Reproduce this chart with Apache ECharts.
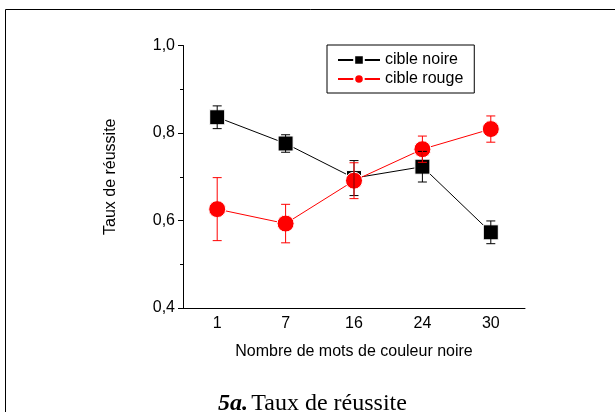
<!DOCTYPE html>
<html>
<head>
<meta charset="utf-8">
<script src="https://cdn.jsdelivr.net/npm/echarts@6/dist/echarts.min.js"></script>
<style>html,body{margin:0;padding:0;background:#fff}#c{width:615px;height:412px}</style>
</head>
<body>
<div id="c"></div>
<script>
var categories = ['1', '7', '16', '24', '30'];
var blackValues = [0.836, 0.776, 0.697, 0.723, 0.573];
var blackErrors = [0.026, 0.020, 0.040, 0.035, 0.026];
var redValues = [0.626, 0.593, 0.691, 0.763, 0.809];
var redErrors = [0.072, 0.044, 0.041, 0.030, 0.030];
var seriesNames = ['cible noire', 'cible rouge'];
var yTicks = [0.4, 0.6, 0.8, 1.0];

var chart = echarts.init(document.getElementById('c'), null, {renderer: 'canvas'});
var FONT = '"Liberation Sans", Arial, sans-serif';
var SERIF = '"Liberation Serif", "Times New Roman", serif';

function errData(vals, errs) {
  return vals.map(function (v, i) { return [i, v - errs[i], v + errs[i]]; });
}
function errRender(color) {
  return function (params, api) {
    var x = api.value(0);
    var lo = api.coord([x, api.value(1)]);
    var hi = api.coord([x, api.value(2)]);
    var hw = 4.5;
    var st = {stroke: color, lineWidth: 1, fill: 'none'};
    return {
      type: 'group',
      children: [
        {type: 'line', shape: {x1: lo[0], y1: lo[1], x2: hi[0], y2: hi[1]}, style: st},
        {type: 'line', shape: {x1: lo[0] - hw, y1: lo[1], x2: lo[0] + hw, y2: lo[1]}, style: st},
        {type: 'line', shape: {x1: hi[0] - hw, y1: hi[1], x2: hi[0] + hw, y2: hi[1]}, style: st}
      ]
    };
  };
}

chart.setOption({
  animation: false,
  backgroundColor: '#fff',
  textStyle: {fontFamily: FONT, color: '#000'},
  grid: {left: 183, right: 90, top: 45.5, bottom: 104, containLabel: false},
  legend: {
    orient: 'vertical',
    left: 327, top: 45,
    padding: [7, 11, 6, 10],
    borderColor: '#000', borderWidth: 1,
    itemWidth: 42, itemHeight: 12, itemGap: 3,
    textStyle: {fontFamily: FONT, fontSize: 16, color: '#000'},
    data: seriesNames
  },
  xAxis: {
    type: 'category',
    data: categories,
    boundaryGap: true,
    name: 'Nombre de mots de couleur noire',
    nameLocation: 'middle',
    nameGap: 36,
    nameTextStyle: {fontFamily: FONT, fontSize: 16, color: '#000'},
    axisLine: {lineStyle: {color: '#000', width: 1}},
    axisTick: {alignWithLabel: true, length: 5, lineStyle: {color: '#000'}},
    axisLabel: {fontFamily: FONT, fontSize: 16, color: '#000', margin: 8},
    splitLine: {show: false}
  },
  yAxis: {
    type: 'value',
    min: yTicks[0], max: yTicks[yTicks.length - 1], interval: 0.2,
    name: 'Taux de réussite',
    nameLocation: 'middle',
    nameGap: 64,
    nameTextStyle: {fontFamily: FONT, fontSize: 16, color: '#000'},
    axisLine: {show: true, lineStyle: {color: '#000', width: 1}},
    axisTick: {show: true, length: 5, lineStyle: {color: '#000'}},
    minorTick: {show: true, splitNumber: 2, length: 3, lineStyle: {color: '#000'}},
    axisLabel: {
      fontFamily: FONT, fontSize: 16, color: '#000', margin: 8,
      formatter: function (v) { return v.toFixed(1).replace('.', ','); }
    },
    splitLine: {show: false}
  },
  graphic: [
    {type: 'line', shape: {x1: 5.5, y1: 9.5, x2: 615, y2: 9.5}, style: {stroke: '#000', lineWidth: 1}},
    {type: 'line', shape: {x1: 5.5, y1: 9.5, x2: 5.5, y2: 412}, style: {stroke: '#000', lineWidth: 1}},
    {
      type: 'text', left: 218, top: 392,
      style: {
        text: '{a|5a.} {b|Taux de réussite}',
        rich: {
          a: {fontFamily: SERIF, fontSize: 24, fontWeight: 'bold', fontStyle: 'italic', fill: '#000'},
          b: {fontFamily: SERIF, fontSize: 24, fill: '#000'}
        }
      }
    }
  ],
  series: [
    {
      name: seriesNames[0], type: 'line', data: blackValues, z: 2,
      symbol: 'rect', symbolSize: 15,
      lineStyle: {color: '#000', width: 1},
      itemStyle: {color: '#000', borderColor: '#fff', borderWidth: 1}
    },
    {
      name: seriesNames[1], type: 'line', data: redValues, z: 3,
      symbol: 'circle', symbolSize: 17,
      lineStyle: {color: '#ff0000', width: 1},
      itemStyle: {color: '#ff0000', borderColor: '#fff', borderWidth: 1}
    },
    {
      type: 'custom', z: 4, silent: true,
      data: errData(blackValues, blackErrors),
      renderItem: errRender('#000')
    },
    {
      type: 'custom', z: 5, silent: true,
      data: errData(redValues, redErrors),
      renderItem: errRender('#ff0000')
    }
  ]
});
</script>
</body>
</html>
